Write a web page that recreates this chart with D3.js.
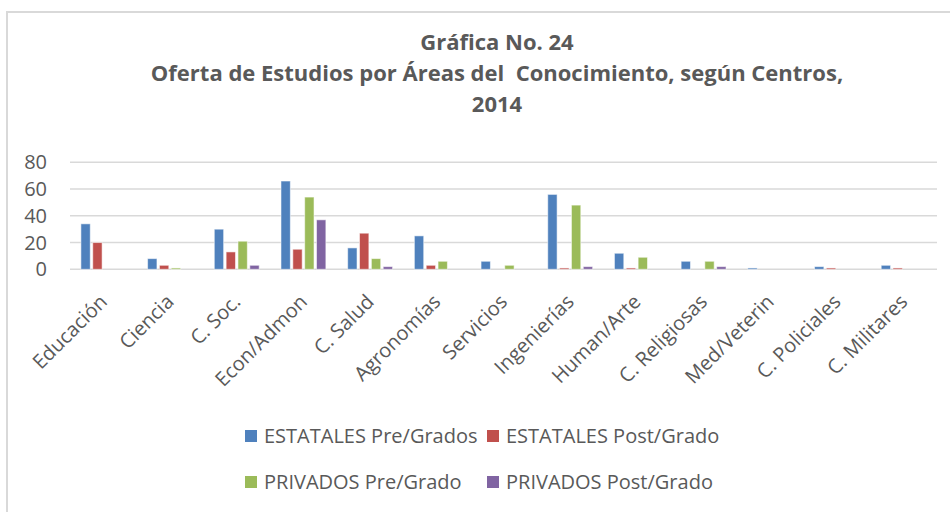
<!DOCTYPE html>
<html>
<head>
<meta charset="utf-8">
<script src="https://cdn.jsdelivr.net/npm/d3@7"></script>
<style>
  body { margin: 0; background: #fff; }
  text { font-family: "Open Sans", sans-serif; fill: #595959; white-space: pre; }
</style>
</head>
<body>
<svg id="chart" width="950" height="512"></svg>
<script>
// categories and series
const areas = ["Educación", "Ciencia", "C. Soc.", "Econ/Admon", "C. Salud", "Agronomías",
  "Servicios", "Ingenierías", "Human/Arte", "C. Religiosas", "Med/Veterin", "C. Policiales", "C. Militares"];
const estatalesPre  = [34, 8, 30, 66, 16, 25, 6, 56, 12, 6, 1, 2, 3];
const estatalesPost = [20, 3, 13, 15, 27, 3, 0, 1, 1, 0, 0, 1, 1];
const privadosPre   = [0, 1, 21, 54, 8, 6, 3, 48, 9, 6, 0, 0, 0];
const privadosPost  = [0, 0, 3, 37, 2, 0, 0, 2, 0, 2, 0, 0, 0];
const seriesNames = ["ESTATALES Pre/Grados", "ESTATALES Post/Grado", "PRIVADOS Pre/Grado", "PRIVADOS Post/Grado"];
const yTicks = [0, 20, 40, 60, 80];
const titleLines = ["Gráfica No. 24", "Oferta de Estudios por Áreas del  Conocimiento, según Centros,", "2014"];

const colors = ["#4f81bd", "#c0504d", "#9bbb59", "#8064a2"];
const seriesValues = [estatalesPre, estatalesPost, privadosPre, privadosPost];

const svg = d3.select("#chart");

// outer frame (only top and left edges show)
svg.append("rect")
  .attr("x", 7).attr("y", 12)
  .attr("width", 960).attr("height", 520)
  .attr("fill", "none")
  .attr("stroke", "#d9d9d9")
  .attr("stroke-width", 2);

// title
svg.append("g")
  .selectAll("text")
  .data(titleLines)
  .join("text")
  .attr("x", 497)
  .attr("y", (d, i) => 50 + i * 31)
  .attr("text-anchor", "middle")
  .style("font-size", "22px")
  .style("font-weight", "bold")
  .text(d => d);

// scales
const x = d3.scaleBand().domain(areas).range([70, 937]);
const xs = d3.scaleBand().domain(d3.range(4))
  .range([0, x.bandwidth()])
  .paddingInner(0.21)
  .paddingOuter(0.92);
const y = d3.scaleLinear().domain([0, 80]).range([269.3, 162.3]);

// gridlines
svg.append("g")
  .selectAll("line")
  .data(yTicks)
  .join("line")
  .attr("x1", 70).attr("x2", 937)
  .attr("y1", d => y(d)).attr("y2", d => y(d))
  .attr("stroke", "#d9d9d9")
  .attr("stroke-width", 1.5);

// y tick labels
svg.append("g")
  .selectAll("text")
  .data(yTicks)
  .join("text")
  .attr("x", 47)
  .attr("y", d => y(d))
  .attr("dy", "0.35em")
  .attr("text-anchor", "end")
  .style("font-size", "20px")
  .text(d => d);

// bars
const groups = svg.append("g")
  .selectAll("g")
  .data(areas)
  .join("g")
  .attr("transform", d => `translate(${x(d)},0)`);

groups.selectAll("rect")
  .data((d, i) => seriesValues.map((vals, s) => ({ s, v: vals[i] })))
  .join("rect")
  .filter(d => d.v > 0)
  .attr("x", d => xs(d.s))
  .attr("width", xs.bandwidth())
  .attr("y", d => y(d.v))
  .attr("height", d => y(0) - y(d.v))
  .attr("fill", d => colors[d.s])
  .attr("stroke", "#fff")
  .attr("stroke-opacity", 0.55)
  .attr("stroke-width", 1);

// rotated category labels
svg.append("g")
  .selectAll("text")
  .data(areas)
  .join("text")
  .attr("text-anchor", "end")
  .attr("transform", d => `translate(${x(d) + x.bandwidth() / 2 + 5},303) rotate(-45)`)
  .style("font-size", "20px")
  .text(d => d);

// legend
const legendPos = [[245, 436], [487, 436], [245, 482], [487, 482]];
const legend = svg.append("g")
  .selectAll("g")
  .data(seriesNames)
  .join("g")
  .attr("transform", (d, i) => `translate(${legendPos[i][0]},${legendPos[i][1]})`);

legend.append("rect")
  .attr("x", 0).attr("y", -6)
  .attr("width", 12).attr("height", 12)
  .attr("fill", (d, i) => colors[i]);

legend.append("text")
  .attr("x", 19)
  .attr("dy", "0.35em")
  .style("font-size", "20px")
  .text(d => d);
</script>
</body>
</html>
